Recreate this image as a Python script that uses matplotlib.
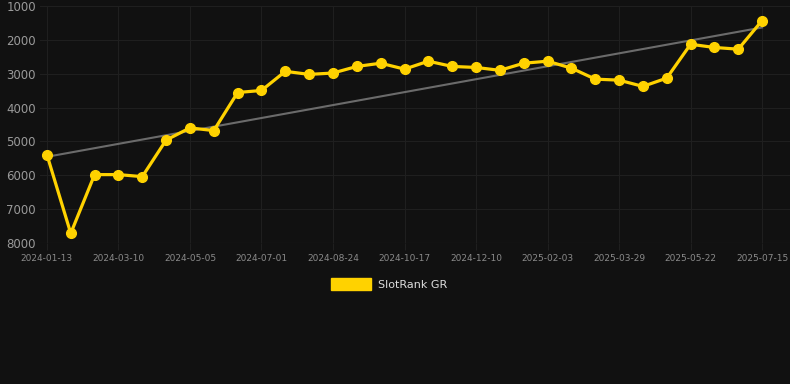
import numpy as np
import matplotlib.pyplot as plt

# Datos (rango SlotRank, menor es mejor)
tick_labels = ['2024-01-13', '2024-03-10', '2024-05-05', '2024-07-01', '2024-08-24', '2024-10-17',
               '2024-12-10', '2025-02-03', '2025-03-29', '2025-05-22', '2025-07-15']
rank_gr = [5390, 7715, 5980, 5980, 6040, 4960, 4600, 4680, 3555, 3495,
           2930, 3020, 2980, 2785, 2690, 2865, 2630, 2785, 2815, 2900,
           2690, 2630, 2835, 3160, 3190, 3375, 3130, 2130, 2225, 2275, 1430]
series_name = 'SlotRank GR'

bg = '#111111'
x = np.arange(len(rank_gr))

# Linea de tendencia (regresion lineal)
coef = np.polyfit(x, rank_gr, 1)
trend = np.polyval(coef, x)

fig = plt.figure(figsize=(7.9, 3.84), dpi=100, facecolor=bg)
ax = fig.add_axes([40 / 790, 1 - 243 / 384, 750 / 790, 237 / 384], facecolor=bg)

ax.plot(x, trend, color='#6b6b6b', lw=1.5, zorder=2)
ax.plot(x, rank_gr, color='#ffd200', lw=2.3, marker='o', markersize=7, zorder=3, label=series_name)

ax.set_ylim(8000, 1000)
ax.set_yticks(range(1000, 8001, 1000))
ax.set_xlim(-0.29, 31.17)
ax.set_xticks(x[::3])
ax.set_xticklabels(tick_labels)

ax.grid(True, color='#1f1f1f', lw=0.8)
for s in ax.spines.values():
    s.set_visible(False)
ax.tick_params(axis='y', length=0, colors='#9a9a9a', labelsize=8.5, pad=3)
ax.tick_params(axis='x', length=5, color='#1f1f1f', colors='#8a8a8a', labelsize=6.5, pad=3)
ax.axhline(8000, color='#2a2a2a', lw=0.8)

leg = fig.legend(handles=[plt.Rectangle((0, 0), 1, 1, color='#ffd200')], labels=[series_name],
                 loc='center', bbox_to_anchor=(389 / 790, 1 - 284 / 384), frameon=False,
                 handlelength=3.6, handleheight=1.3, handletextpad=0.6, fontsize=8)
for t in leg.get_texts():
    t.set_color('#dddddd')

fig.savefig('out.png', dpi=100, facecolor=bg)
